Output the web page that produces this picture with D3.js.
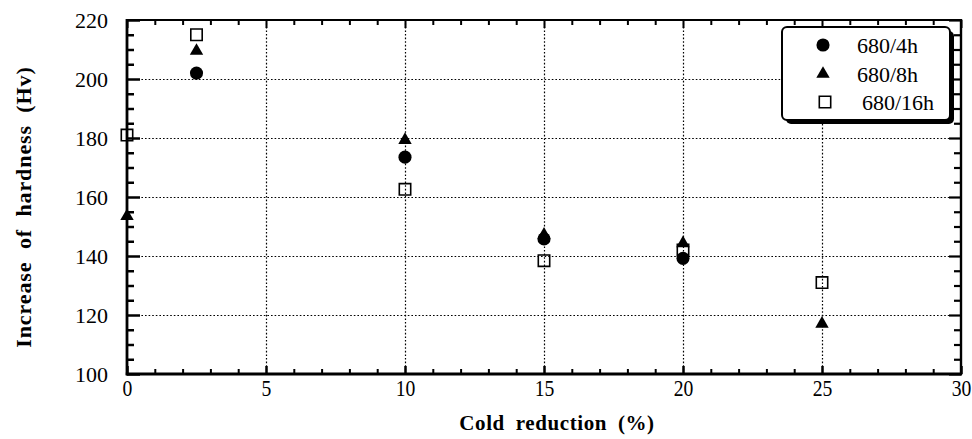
<!DOCTYPE html>
<html>
<head>
<meta charset="utf-8">
<script src="https://cdn.jsdelivr.net/npm/d3@7"></script>
<style>
  html, body { margin: 0; padding: 0; background: #fff; }
  svg { display: block; }
  svg text { font-family: "Liberation Serif", "Tinos", "Times New Roman", "DejaVu Serif", serif !important; fill: #000; }
</style>
</head>
<body>
<svg id="chart" width="972" height="439"></svg>
<script>
// ---- data ----
const coldReduction = [0, 2.5, 10, 15, 20, 25];
const h680_4h  = [null, 202, 173.5, 145.8, 139.2, null];
const h680_8h  = [153.5, 209.5, 179.3, 147.2, 144.3, 117];
const h680_16h = [181, 215, 162.6, 138.4, 142, 131];
const seriesNames = ["680/4h", "680/8h", "680/16h"];
const xTickValues = [0, 5, 10, 15, 20, 25, 30];
const yTickValues = [100, 120, 140, 160, 180, 200, 220];
const xGridValues = [5, 10, 15, 20, 25];
const yGridValues = [120, 140, 160, 180, 200];

const FONT = '"Liberation Serif", "Tinos", "Times New Roman", "DejaVu Serif", serif';

// ---- layout ----
const svg = d3.select("#chart");
const L = 127, R = 961, T = 20, B = 374;

const x = d3.scaleLinear().domain([0, 30]).range([L, R]);
const y = d3.scaleLinear().domain([100, 220]).range([B, T]);

const xMinor = d3.range(0, 31, 1).filter(v => v % 5 !== 0);
const yMinor = d3.range(100, 221, 5).filter(v => v % 20 !== 0);

// gridlines
const grid = svg.append("g").attr("class", "grid");
grid.append("g")
  .attr("transform", `translate(0,${B})`)
  .call(d3.axisBottom(x).tickValues(xGridValues).tickSize(-(B - T)).tickFormat(""))
  .call(g => g.select(".domain").remove())
  .call(g => g.selectAll("line").attr("stroke", "#000").attr("stroke-width", 1.2).attr("stroke-dasharray", "1.6,2"));
grid.append("g")
  .attr("transform", `translate(${L},0)`)
  .call(d3.axisLeft(y).tickValues(yGridValues).tickSize(-(R - L)).tickFormat(""))
  .call(g => g.select(".domain").remove())
  .call(g => g.selectAll("line").attr("stroke", "#000").attr("stroke-width", 1.2).attr("stroke-dasharray", "1.6,2"));

function styleAxis(g, w) {
  g.attr("font-family", FONT);
  g.select(".domain").remove();
  g.selectAll("line").attr("stroke", "#000").attr("stroke-width", w);
}

// left axis
svg.append("g").attr("transform", `translate(${L},0)`)
  .call(d3.axisLeft(y).tickValues(yMinor).tickSize(-7).tickFormat(""))
  .call(g => styleAxis(g, 2.5));
const yAx = svg.append("g").attr("transform", `translate(${L},0)`)
  .call(d3.axisLeft(y).tickValues(yTickValues).tickSize(-13).tickPadding(0))
  .call(g => styleAxis(g, 2.5));
yAx.selectAll("text")
  .attr("x", -19).attr("dy", "0.35em")
  .style("font-family", FONT)
  .style("font-size", "22px").style("text-anchor", "end");

// right axis
svg.append("g").attr("transform", `translate(${R},0)`)
  .call(d3.axisRight(y).tickValues(yMinor).tickSize(-7).tickFormat(""))
  .call(g => styleAxis(g, 2.2));
svg.append("g").attr("transform", `translate(${R},0)`)
  .call(d3.axisRight(y).tickValues(yTickValues).tickSize(-12).tickFormat(""))
  .call(g => styleAxis(g, 2.2));

// bottom axis
svg.append("g").attr("transform", `translate(0,${B})`)
  .call(d3.axisBottom(x).tickValues(xMinor).tickSize(-5).tickFormat(""))
  .call(g => styleAxis(g, 2));
const xAx = svg.append("g").attr("transform", `translate(0,${B})`)
  .call(d3.axisBottom(x).tickValues(xTickValues).tickSize(-8))
  .call(g => styleAxis(g, 2.5));
xAx.selectAll("text")
  .attr("y", 22).attr("dy", 0)
  .style("font-family", FONT)
  .style("font-size", "24px")
  .attr("transform", "scale(0.82,1)");

// top axis
svg.append("g").attr("transform", `translate(0,${T})`)
  .call(d3.axisTop(x).tickValues(xMinor).tickSize(-5).tickFormat(""))
  .call(g => styleAxis(g, 2));
svg.append("g").attr("transform", `translate(0,${T})`)
  .call(d3.axisTop(x).tickValues(xTickValues).tickSize(-8).tickFormat(""))
  .call(g => styleAxis(g, 2));

// frame lines
svg.append("line").attr("x1", L).attr("x2", L).attr("y1", T - 1).attr("y2", B + 1.2).attr("stroke", "#000").attr("stroke-width", 2.8);
svg.append("line").attr("x1", L - 1.2).attr("x2", R + 1).attr("y1", B).attr("y2", B).attr("stroke", "#000").attr("stroke-width", 2.8);
svg.append("line").attr("x1", R).attr("x2", R).attr("y1", T - 1).attr("y2", B + 1).attr("stroke", "#000").attr("stroke-width", 2.4);
svg.append("line").attr("x1", L).attr("x2", R).attr("y1", T).attr("y2", T).attr("stroke", "#000").attr("stroke-width", 2);

// ---- markers ----
const symCircle = d3.symbol().type(d3.symbolCircle).size(135);
const symTri = d3.symbol().type(d3.symbolTriangle).size(78);
const symSquare = d3.symbol().type(d3.symbolSquare).size(130);

const series = [
  { name: seriesNames[0], values: h680_4h, sym: symCircle, fill: "#000", stroke: "none" },
  { name: seriesNames[1], values: h680_8h, sym: symTri, fill: "#000", stroke: "none" },
  { name: seriesNames[2], values: h680_16h, sym: symSquare, fill: "none", stroke: "#000" }
];

[series[2], series[0], series[1]].forEach(s => {
  const pts = coldReduction.map((c, i) => ({ x: c, v: s.values[i] })).filter(d => d.v != null);
  svg.append("g").selectAll("path").data(pts).join("path")
    .attr("d", s.sym())
    .attr("transform", d => `translate(${x(d.x)},${y(d.v)})`)
    .attr("fill", s.fill)
    .attr("stroke", s.stroke)
    .attr("stroke-width", 1.6);
});

// ---- legend ----
const lg = svg.append("g");
const lx = 782, ly = 27, lw = 168, lh = 93;
lg.append("rect").attr("x", lx + 4).attr("y", ly + 4).attr("width", lw).attr("height", lh)
  .attr("rx", 5).attr("fill", "#000");
lg.append("rect").attr("x", lx).attr("y", ly).attr("width", lw).attr("height", lh)
  .attr("rx", 5).attr("fill", "#fff").attr("stroke", "#000").attr("stroke-width", 2);
const rowY = [45, 74, 102];
const symX = [823, 823, 825];
const txtX = [857, 857, 862];
series.forEach((s, i) => {
  lg.append("path").attr("d", s.sym())
    .attr("transform", `translate(${symX[i]},${rowY[i]})`)
    .attr("fill", s.fill).attr("stroke", s.stroke).attr("stroke-width", 1.6);
  lg.append("text").attr("x", txtX[i]).attr("y", rowY[i]).attr("dy", "0.35em")
    .style("font-family", FONT)
    .style("font-size", "22px").text(s.name);
});

// ---- axis titles ----
svg.append("text")
  .attr("x", 557).attr("y", 430)
  .attr("text-anchor", "middle")
  .style("font-family", FONT)
  .style("font-size", "21px").style("font-weight", "bold")
  .style("letter-spacing", "0.6px").style("word-spacing", "5px")
  .text("Cold reduction (%)");

svg.append("text")
  .attr("transform", `translate(31,${(T + B) / 2 + 10}) rotate(-90)`)
  .attr("text-anchor", "middle")
  .style("font-family", FONT)
  .style("font-size", "22px").style("font-weight", "bold")
  .style("letter-spacing", "0.9px").style("word-spacing", "6px")
  .text("Increase of hardness (Hv)");
</script>
</body>
</html>
